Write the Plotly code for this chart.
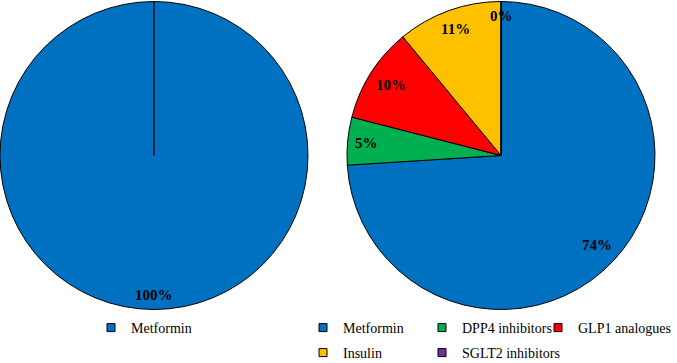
import math
import plotly.graph_objects as go

W, H = 677, 363

left_labels = ["Metformin"]
left_values = [100]
left_text = ["100%"]

right_labels = ["Metformin", "DPP4 inhibitors", "GLP1 analogues", "Insulin", "SGLT2 inhibitors"]
right_values = [74, 5, 10, 11, 0]
right_text = ["74%", "5%", "10%", "11%", "0%"]

colors = {"Metformin": "#0070C0", "DPP4 inhibitors": "#00B050", "GLP1 analogues": "#FF0000",
          "Insulin": "#FFC000", "SGLT2 inhibitors": "#7030A0"}

FONT = "Liberation Serif"
EDGE = dict(color="black", width=1)

# domains (paper)
ydom = [1 - 310 / H, 1 - 1 / H]
left_xdom = [0 / W, 308 / W]
right_xdom = [347 / W, 655 / W]

# legend placement (pixels)
left_leg_px = (91, 312)
col_px = [303, 422, 538]
row_px = [312, 337]
n_cols = 3


def pie_geom(xdom):
    wpx = (xdom[1] - xdom[0]) * W
    hpx = (ydom[1] - ydom[0]) * H
    r = min(wpx, hpx) / 2
    cx = (xdom[0] + xdom[1]) / 2
    cy = (ydom[0] + ydom[1]) / 2
    return cx, cy, r


fig = go.Figure()
legend_font = dict(family=FONT, size=14, color="black")
common = dict(orientation="h", xanchor="left", yanchor="top", font=legend_font,
              bgcolor="rgba(0,0,0,0)", itemwidth=30)
legend_layouts = {}


def legend_key(lab, leg):
    fig.add_trace(go.Scatter(
        x=[None], y=[None], mode="markers", name=lab, legend=leg, showlegend=True,
        hoverinfo="skip",
        marker=dict(symbol="square", size=8, color=colors[lab], line=EDGE),
    ))


# left pie
fig.add_trace(go.Pie(
    labels=left_labels, values=left_values, sort=False, direction="clockwise", rotation=0,
    marker=dict(colors=[colors[l] for l in left_labels], line=EDGE),
    textinfo="none", hoverinfo="label+percent", domain=dict(x=left_xdom, y=ydom),
    showlegend=False,
))
# right pie
fig.add_trace(go.Pie(
    labels=right_labels, values=right_values, sort=False, direction="clockwise", rotation=0,
    marker=dict(colors=[colors[l] for l in right_labels], line=EDGE),
    textinfo="none", hoverinfo="label+percent", domain=dict(x=right_xdom, y=ydom),
    showlegend=False,
))

# legend keys
for lab in left_labels:
    legend_key(lab, "legend")
legend_layouts["legend"] = dict(x=left_leg_px[0] / W, y=1 - left_leg_px[1] / H, **common)
for i, lab in enumerate(right_labels):
    leg = "legend%d" % (i + 2)
    legend_key(lab, leg)
    legend_layouts[leg] = dict(x=col_px[i % n_cols] / W, y=1 - row_px[i // n_cols] / H, **common)


def add_labels(xdom, values, texts, pad=8):
    """Percent labels placed 'inside end' like the original spreadsheet chart."""
    cx, cy, r = pie_geom(xdom)
    total = sum(values)
    cum = 0
    for v, t in zip(values, texts):
        mid = (cum + v / 2) / total * 2 * math.pi
        cum += v
        tw = 7.5 * (len(t) - 1) + 12.5
        th = 14
        ext = abs(math.sin(mid)) * tw / 2 + abs(math.cos(mid)) * th / 2
        rr_ = r - pad - ext
        dx = math.sin(mid) * rr_
        dy = math.cos(mid) * rr_
        fig.add_annotation(x=cx + dx / W, y=cy + dy / H, xref="paper", yref="paper",
                           xanchor="center", yanchor="middle",
                           text="<b>%s</b>" % t, showarrow=False,
                           font=dict(family=FONT, size=15, color="black"))


add_labels(left_xdom, left_values, left_text)
add_labels(right_xdom, right_values, right_text)

# radial edge line of the single full slice on the left pie
cx, cy, r = pie_geom(left_xdom)
fig.add_shape(type="line", xref="paper", yref="paper", x0=cx, x1=cx, y0=cy, y1=cy + r / H,
              line=dict(color="black", width=1.3))

fig.update_layout(
    width=W, height=H, margin=dict(l=0, r=0, t=0, b=0, autoexpand=False),
    paper_bgcolor="white", plot_bgcolor="white",
    font=dict(family=FONT, size=14, color="black"),
    xaxis=dict(visible=False), yaxis=dict(visible=False),
    **legend_layouts,
)

fig.write_html("out.html")
